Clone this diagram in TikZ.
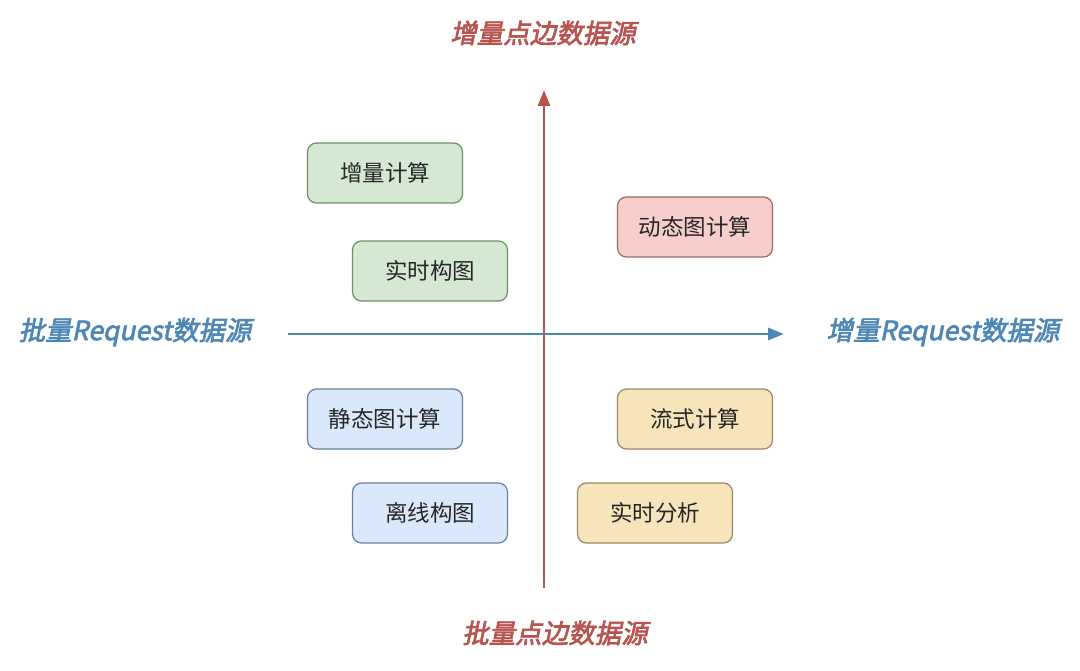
\documentclass[tikz,border=0pt]{standalone}
\usepackage{fontspec}
\newfontfamily\cjk{Noto Sans CJK SC}
\newfontfamily\cjkbi{Noto Sans CJK SC}[FakeBold=2.5,FakeSlant=0.2]
\usetikzlibrary{arrows.meta}
\definecolor{gF}{HTML}{D5E8D4}\definecolor{gD}{HTML}{6E8F62}
\definecolor{rF}{HTML}{F8CECC}\definecolor{rD}{HTML}{9C6A68}
\definecolor{bF}{HTML}{DAE8FC}\definecolor{bD}{HTML}{6A7F9E}
\definecolor{oF}{HTML}{F8E4BA}\definecolor{oD}{HTML}{9A8866}
\definecolor{axR}{HTML}{B85450}\definecolor{axB}{HTML}{4D87B6}
\begin{document}
\begin{tikzpicture}[x=1pt,y=-1pt,
 box/.style={rounded corners=9pt,line width=1.2pt,minimum width=155pt,minimum height=60pt,inner sep=0pt,font=\cjk\fontsize{22.5}{22.5}\selectfont,text=black!85},
 g/.style={box,fill=gF,draw=gD}, r/.style={box,fill=rF,draw=rD},
 b/.style={box,fill=bF,draw=bD}, o/.style={box,fill=oF,draw=oD},
 lab/.style={font=\cjkbi\fontsize{26.5}{26.5}\selectfont},
 ax/.style={line width=2.8pt,-{Triangle[length=16pt,width=12pt]}}]
\useasboundingbox (0,0) rectangle (1080,671);
\fill[white] (0,0) rectangle (1080,671);
\coordinate (vb) at (544,588); \coordinate (vt) at (544,90);
\coordinate (hl) at (288,334); \coordinate (hr) at (784,334);
\draw[ax,axR] (vb) -- (vt);
\draw[ax,axB] (hl) -- (hr);
\node[lab,text=axR] (t) at (543,33) {增量点边数据源};
\node[lab,text=axR] (bt) at (555,633) {批量点边数据源};
\node[lab,text=axB] (l) at (135,332) {批量Request数据源};
\node[lab,text=axB] (rt) at (943,332) {增量Request数据源};
\node[g] (n1) at (385,173) {增量计算};
\node[g] (n2) at (430,271) {实时构图};
\node[r] (n3) at (695,227) {动态图计算};
\node[b] (n4) at (385,419) {静态图计算};
\node[b] (n5) at (430,513) {离线构图};
\node[o] (n6) at (695,419) {流式计算};
\node[o] (n7) at (655,513) {实时分析};
\end{tikzpicture}
\end{document}
